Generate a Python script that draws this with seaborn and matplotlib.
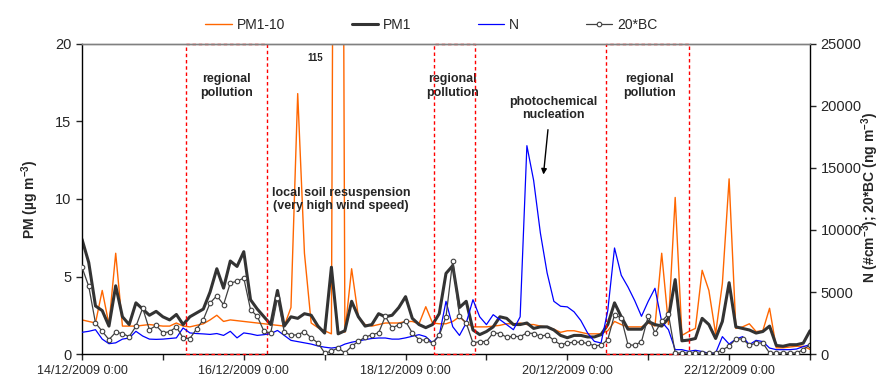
import matplotlib
matplotlib.use('Agg')
import pandas as pd
import matplotlib.pyplot as plt
import matplotlib.dates as mdates
from matplotlib.patches import Rectangle
import seaborn as sns

# 2-hourly values, 14/12/2009 0:00 -> 23/12/2009 0:00 (one row = one day)
pm1_10 = [2.2, 2.1, 2.0, 4.1, 1.9, 6.5, 1.8, 1.8, 1.8, 1.85, 1.9, 1.85,
          1.8, 1.8, 2.0, 1.8, 1.75, 1.85, 1.95, 2.2, 2.5, 2.1, 2.2, 2.15,
          2.1, 2.05, 2.0, 1.95, 1.9, 1.85, 1.8, 3.0, 16.8, 6.5, 2.0, 1.7,
          1.5, 1.3, 115, 1.4, 5.5, 2.4, 1.9, 1.8, 1.9, 2.0, 2.0, 2.0,
          2.1, 2.1, 1.95, 3.05, 2.0, 1.95, 1.95, 2.1, 2.4, 2.0, 1.75, 1.75,
          1.75, 1.8, 1.85, 1.95, 1.95, 2.0, 1.9, 1.9, 1.8, 1.75, 1.6, 1.4,
          1.5, 1.5, 1.4, 1.3, 1.3, 1.3, 1.5, 2.1, 1.9, 1.75, 1.75, 1.75,
          2.0, 1.8, 6.5, 1.9, 10.1, 1.2, 1.45, 1.65, 5.4, 4.1, 1.3, 4.55,
          11.3, 1.65, 1.75, 1.95, 1.45, 1.5, 2.95, 0.4, 0.4, 0.45, 0.5, 0.5,
          0.3]
pm1 = [7.4, 5.9, 3.1, 2.8, 1.8, 4.4, 2.4, 1.9, 3.3, 2.9, 2.5, 2.75,
       2.4, 2.2, 2.55, 1.9, 2.4, 2.65, 2.9, 4.0, 5.5, 4.25, 6.0, 5.65,
       6.6, 3.5, 2.9, 2.4, 1.9, 4.1, 1.8, 2.4, 2.3, 2.6, 2.5, 1.8,
       1.35, 5.6, 1.3, 1.5, 3.4, 2.4, 1.8, 1.9, 2.6, 2.4, 2.5, 3.0,
       3.7, 2.3, 1.9, 1.7, 1.9, 2.6, 5.2, 5.7, 3.0, 3.4, 1.55, 1.25,
       1.45, 1.75, 2.4, 2.3, 1.9, 1.9, 2.0, 1.65, 1.75, 1.75, 1.55, 1.2,
       1.05, 1.2, 1.2, 1.1, 1.1, 1.25, 1.9, 3.3, 2.4, 1.6, 1.6, 1.6,
       2.1, 1.9, 1.8, 2.3, 4.8, 0.85, 0.9, 1.0, 2.3, 1.9, 1.0, 2.1,
       4.6, 1.75, 1.65, 1.55, 1.35, 1.45, 1.8, 0.55, 0.5, 0.6, 0.6, 0.7,
       1.5]
n_conc = [1750, 1830, 1960, 1200, 830, 900, 1200, 1290, 1830, 1450, 1200, 1180,
          1200, 1250, 1300, 2100, 1700, 1650, 1620, 1580, 1650, 1500, 1830, 1300,
          1700, 1620, 1500, 1560, 1640, 1900, 1500, 1100, 1000, 900, 800, 650,
          550, 480, 550, 800, 950, 1050, 1160, 1250, 1290, 1290, 1200, 1200,
          1300, 1430, 1560, 1400, 900, 1500, 4250, 2200, 1500, 2500, 4380, 3000,
          2370, 3170, 2770, 2370, 1960, 3000, 16800, 14000, 9760, 6540, 4250, 3850,
          3800, 3400, 2700, 1700, 1020, 890, 3500, 8550, 6350, 5400, 4300, 3040,
          4250, 5300, 2600, 1960, 350, 350, 215, 300, 200, 50, 80, 1400,
          800, 1200, 1400, 750, 1100, 1000, 480, 350, 350, 350, 400, 600,
          750]
bc20 = [6990, 5460, 2500, 1830, 1160, 1750, 1650, 1400, 2230, 3700, 1960, 2300,
        1700, 1800, 2180, 1290, 1250, 2020, 2770, 4110, 4700, 3980, 5730, 5860,
        6130, 3580, 3040, 1830, 1700, 4520, 1800, 1500, 1560, 1800, 1290, 900,
        80, 215, 500, 80, 620, 1020, 1350, 1560, 1700, 3040, 2100, 2370,
        2640, 1700, 1160, 1100, 890, 1500, 3000, 7530, 3040, 2500, 890, 1000,
        1000, 1700, 1650, 1350, 1430, 1400, 1700, 1650, 1430, 1550, 1100, 750,
        890, 950, 950, 850, 670, 700, 1160, 3170, 2900, 750, 700, 1000,
        3040, 1700, 2640, 3200, 80, 80, 80, 80, 80, 80, 80, 350,
        620, 1210, 1210, 700, 890, 890, 80, 80, 80, 80, 80, 350,
        750]
episodes = [('2009-12-15 07:00', '2009-12-16 07:00'),
            ('2009-12-18 08:30', '2009-12-18 20:40'),
            ('2009-12-20 11:30', '2009-12-21 12:00')]

times = pd.date_range('2009-12-14', periods=len(pm1), freq='2h')
df = pd.DataFrame({'time': times, 'PM1-10': pm1_10, 'PM1': pm1,
                   'N': n_conc, '20*BC': bc20})

sns.set_style('ticks')
plt.rcParams['font.family'] = ['Liberation Sans', 'DejaVu Sans']
plt.rcParams['mathtext.fontset'] = 'custom'
plt.rcParams['mathtext.rm'] = 'Liberation Sans'
plt.rcParams['mathtext.bf'] = 'Liberation Sans:bold'

fig = plt.figure(figsize=(8.82, 3.76), dpi=100)
ax = fig.add_axes([82/882, 22/376, 728/882, 310/376])

sns.lineplot(data=df, x='time', y='PM1-10', ax=ax, color='#FF6600', lw=1, label='PM1-10')
sns.lineplot(data=df, x='time', y='PM1', ax=ax, color='#333333', lw=2.2, label='PM1')

ax2 = ax.twinx()
sns.lineplot(data=df, x='time', y='N', ax=ax2, color='#0000FF', lw=0.9, label='N')
sns.lineplot(data=df, x='time', y='20*BC', ax=ax2, color='#404040', lw=0.9, label='20*BC',
             marker='o', markersize=3.3, markerfacecolor='white',
             markeredgecolor='#404040', markeredgewidth=0.8)

for start, end in episodes:
    x0 = mdates.date2num(pd.Timestamp(start))
    x1 = mdates.date2num(pd.Timestamp(end))
    ax.add_patch(Rectangle((x0, 0), x1 - x0, 20, fill=False, ec='red',
                           ls=(0, (2.5, 2)), lw=1, zorder=5, clip_on=False))

ax.set_xlim(pd.Timestamp('2009-12-14'), pd.Timestamp('2009-12-23'))
ax.set_ylim(0, 20)
ax.set_yticks([0, 5, 10, 15, 20])
ax2.set_ylim(0, 25000)
ax2.set_yticks([0, 5000, 10000, 15000, 20000, 25000])
ax.xaxis.set_major_locator(mdates.DayLocator(bymonthday=[14, 16, 18, 20, 22]))
ax.xaxis.set_minor_locator(mdates.DayLocator())
ax.xaxis.set_major_formatter(mdates.DateFormatter('%d/%m/%Y %-H:%M'))

ax.tick_params(axis='x', which='both', direction='out', length=4, width=1, labelsize=9, pad=4)
ax.tick_params(axis='y', direction='out', length=4, width=1, labelsize=10.5)
ax2.tick_params(axis='y', direction='out', length=4, width=1, labelsize=10.5)
ax.set_xlabel('')
ax.set_ylabel('')
ax2.set_ylabel('')

for a in (ax, ax2):
    a.spines['top'].set_color('#808080')
    for s in a.spines.values():
        s.set_linewidth(1)
ax.spines['right'].set_visible(False)
ax2.spines['left'].set_visible(False)
ax2.spines['bottom'].set_visible(False)
ax.spines['left'].set_color('black')
ax.spines['bottom'].set_color('black')
ax2.spines['right'].set_color('black')

h1, l1 = ax.get_legend_handles_labels()
h2, l2 = ax2.get_legend_handles_labels()
ax.get_legend().remove()
ax2.get_legend().remove()
fig.legend(h1 + h2, l1 + l2, loc='center', bbox_to_anchor=(0.489, 0.934), ncol=4,
           frameon=False, fontsize=10, columnspacing=4.8, handlelength=1.9,
           handletextpad=0.35)

fig.text(30/882, 1 - 199/376, r'PM (µg m$^{\mathbf{-3}}$)', rotation=90,
         ha='center', va='center', fontsize=10, fontweight='bold')
fig.text(870/882, 1 - 198/376, r'N (#cm$^{\mathbf{-3}}$); 20*BC (ng m$^{\mathbf{-3}}$)',
         rotation=90, ha='center', va='center', fontsize=10, fontweight='bold')

def tx(s):
    return mdates.date2num(pd.Timestamp(s))

note = dict(ha='center', va='center', fontsize=9, fontweight='bold', linespacing=1.15)
ax.text(tx('2009-12-15 19:00'), 17.3, 'regional\npollution', **note)
ax.text(tx('2009-12-18 13:50'), 17.3, 'regional\npollution', **note)
ax.text(tx('2009-12-21 00:20'), 17.3, 'regional\npollution', **note)
ax.text(tx('2009-12-19 19:50'), 15.85, 'photochemical\nnucleation', **note)
ax.text(tx('2009-12-17 04:50'), 9.95, 'local soil resuspension\n(very high wind speed)', **note)
ax.text(tx('2009-12-16 21:10'), 19.1, '115', ha='center', va='center', fontsize=7, fontweight='bold')
ax.annotate('', xy=(tx('2009-12-19 16:50'), 11.4), xytext=(tx('2009-12-19 18:20'), 14.65),
            arrowprops=dict(arrowstyle='-|>', color='black', lw=1, mutation_scale=8))

fig.savefig('out.png', dpi=100)
